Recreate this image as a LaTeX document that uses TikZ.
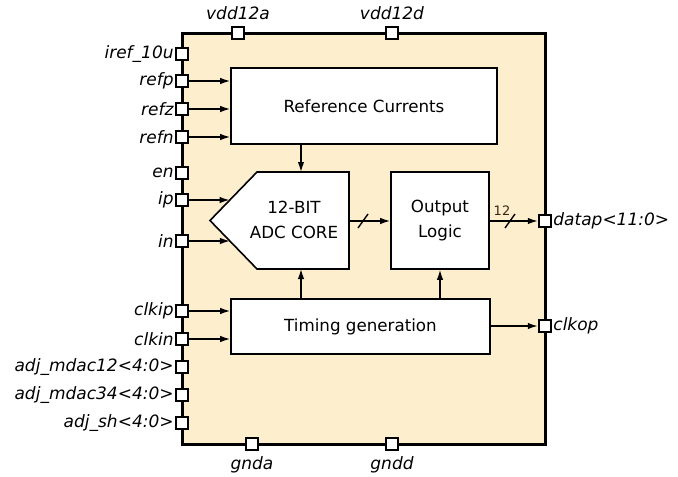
\documentclass[tikz,border=0pt]{standalone}
\usepackage{fontspec}
\setmainfont{DejaVu Sans}
\usetikzlibrary{arrows.meta}
\definecolor{chip}{HTML}{FDEFCE}
\tikzset{
  x=1pt, y=-1pt,
  pin/.style={draw, fill=white, line width=1.9pt, minimum size=12.5pt, inner sep=0pt},
  blk/.style={draw, fill=white, line width=1.6pt},
  sig/.style={line width=1.4pt, -{Latex[length=10pt,width=6.5pt]}},
  lbl/.style={font=\fontsize{17}{20}\selectfont\itshape, inner sep=1pt},
  txt/.style={font=\fontsize{16.7}{25}\selectfont, align=center}
}
\begin{document}
\begin{tikzpicture}
\useasboundingbox (0,0) rectangle (678,477);
% main box
\draw[fill=chip, line width=3pt] (182,33) rectangle (545,444);
% blocks
\node[blk, minimum width=266pt, minimum height=76pt, txt] (ref) at (364,106) {Reference Currents};
\draw[blk] (210,220.5) -- (257,172) -- (349,172) -- (349,269) -- (257,269) -- cycle;
\coordinate (adctop) at (301,172);
\coordinate (adcbot) at (301,269);
\coordinate (adcr) at (349,221);
\node[txt] (adc) at (294,220) {12-BIT\\ADC CORE};
\node[blk, minimum width=98pt, minimum height=97pt, txt] (out) at (440,220.5) {Output\\Logic};
\node[blk, minimum width=259pt, minimum height=55pt, txt] (tim) at (360.5,326.5) {Timing generation};
% left pins
\foreach \n/\y/\t in {iref/54/iref\_10u, refp/81/refp, refz/109/refz, refn/137/refn, en/173/en, ip/200/ip, in/241/in, clkip/311/clkip, clkin/339/clkin, mdA/367/adj\_mdac12<4:0>, mdB/395/adj\_mdac34<4:0>, sh/423/adj\_sh<4:0>}{
  \node[pin] (\n) at (182,\y) {};
  \node[lbl, anchor=east] at (\n.west) {\t};
}
% top/bottom pins
\node[pin] (va) at (238,33) {}; \node[lbl] at (238,13) {vdd12a};
\node[pin] (vd) at (392,33) {}; \node[lbl] at (392,13) {vdd12d};
\node[pin] (ga) at (252,444) {}; \node[lbl] at (252,465) {gnda};
\node[pin] (gd) at (392,444) {}; \node[lbl] at (392,465) {gndd};
% right pins
\node[pin] (dp) at (545,221) {}; \node[lbl, anchor=west] at (dp.east) {datap<11:0>};
\node[pin] (ck) at (545,326) {}; \node[lbl, anchor=west] at (ck.east) {clkop};
% input connectors
\foreach \n in {refp,refz,refn}{ \draw[sig] (\n.east) -- (\n.east -| ref.west); }
\foreach \n in {clkip,clkin}{ \draw[sig] (\n.east) -- (\n.east -| tim.west); }
\coordinate (ipend) at (229.6,200);
\coordinate (inend) at (229.9,241);
\draw[sig] (ip.east) -- (ipend);
\draw[sig] (in.east) -- (inend);
% internal
\draw[sig] (ref.south -| adctop) -- (adctop);
\draw[sig] (tim.north -| adcbot) -- (adcbot);
\draw[sig] (tim.north -| out.south) -- (out.south);
\draw[sig] (adcr) -- (out.west |- adcr);
\draw[line width=1.4pt] (358,228) -- (368,214);
\draw[sig] (out.east |- dp) -- (dp.west);
\draw[line width=1.4pt] (505,228) -- (515,214);
\node[font=\fontsize{13}{15}\selectfont, text=black!70!brown, inner sep=0pt] (n12) at (502,211) {12};
\draw[sig] (tim.east |- ck) -- (ck.west);
\end{tikzpicture}
\end{document}
